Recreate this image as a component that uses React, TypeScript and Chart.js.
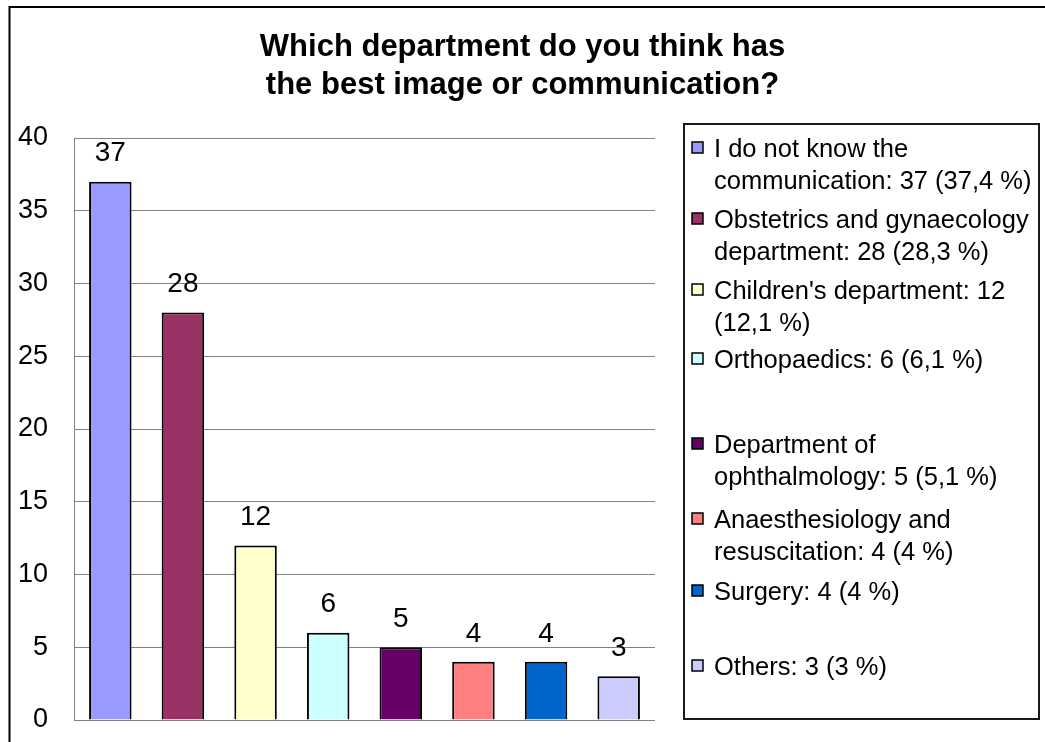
import React, { useEffect, useRef } from "react";
import { Chart, registerables } from "chart.js";

Chart.register(...registerables);

const categories = [
  "I do not know the communication",
  "Obstetrics and gynaecology department",
  "Children's department",
  "Orthopaedics",
  "Department of ophthalmology",
  "Anaesthesiology and resuscitation",
  "Surgery",
  "Others",
];
const counts = [37, 28, 12, 6, 5, 4, 4, 3];
const percents = [37.4, 28.3, 12.1, 6.1, 5.1, 4, 4, 3];
const barColors = ["#9999FF", "#993366", "#FFFFCC", "#CCFFFF", "#660066", "#FF8080", "#0066CC", "#CCCCFF"];
const titleLines = ["Which department do you think has", "the best image or communication?"];
const yMin = 0;
const yMax = 40;
const yStep = 5;

const FONT = "'Liberation Sans', Arial, Helvetica, sans-serif";
const W = 1045;
const H = 742;

const legendText = categories.map(
  (c, i) => `${c}: ${counts[i]} (${String(percents[i]).replace(".", ",")} %)`
);

// layout constants (legend row baselines)
const legendBaselines = [157, 228, 299, 368, 453, 528, 600, 675];

function wrap(ctx: CanvasRenderingContext2D, text: string, maxW: number): string[] {
  const words = text.split(" ");
  const lines: string[] = [];
  let cur = "";
  for (const w of words) {
    const test = cur ? cur + " " + w : w;
    if (ctx.measureText(test).width > maxW && cur) {
      lines.push(cur);
      cur = w;
    } else {
      cur = test;
    }
  }
  if (cur) lines.push(cur);
  return lines;
}

const decorPlugin = {
  id: "decor",
  beforeDraw(chart: any) {
    const ctx = chart.ctx as CanvasRenderingContext2D;
    ctx.save();
    ctx.fillStyle = "#ffffff";
    ctx.fillRect(0, 0, W, H);
    // outer frame (extends beyond the canvas right/bottom)
    ctx.strokeStyle = "#000000";
    ctx.lineWidth = 2;
    ctx.beginPath();
    ctx.moveTo(9.5, H + 5);
    ctx.lineTo(9.5, 7);
    ctx.lineTo(W + 5, 7);
    ctx.stroke();
    // title
    ctx.fillStyle = "#000000";
    ctx.font = `bold 31px ${FONT}`;
    ctx.textAlign = "center";
    ctx.textBaseline = "alphabetic";
    const baselines = [56, 94];
    titleLines.forEach((t, i) => {
      ctx.fillText(t, W / 2, baselines[i]);
    });
    ctx.restore();
  },
  afterDatasetsDraw(chart: any) {
    const ctx = chart.ctx as CanvasRenderingContext2D;
    const meta = chart.getDatasetMeta(0);
    ctx.save();
    ctx.fillStyle = "#000000";
    ctx.font = `28px ${FONT}`;
    ctx.textAlign = "center";
    ctx.textBaseline = "middle";
    meta.data.forEach((bar: any, i: number) => {
      ctx.fillText(String(counts[i]), bar.x, bar.y - 28);
    });
    ctx.restore();
  },
  afterDraw(chart: any) {
    const ctx = chart.ctx as CanvasRenderingContext2D;
    ctx.save();
    // legend box
    ctx.strokeStyle = "#1a1a1a";
    ctx.lineWidth = 2;
    ctx.strokeRect(684, 124, 355, 595);
    ctx.font = `25.5px ${FONT}`;
    ctx.textBaseline = "alphabetic";
    ctx.textAlign = "left";
    legendText.forEach((t, i) => {
      const base = legendBaselines[i];
      // marker
      ctx.fillStyle = barColors[i];
      ctx.fillRect(692, base - 15, 11, 11);
      ctx.strokeStyle = "#000000";
      ctx.lineWidth = 1.5;
      ctx.strokeRect(692, base - 15, 11, 11);
      ctx.fillStyle = "#000000";
      const lines = wrap(ctx, t, 323);
      lines.forEach((ln, j) => {
        ctx.fillText(ln, 714, base + j * 31.5);
      });
    });
    ctx.restore();
  },
};

export default function App() {
  const ref = useRef<HTMLCanvasElement | null>(null);
  useEffect(() => {
    if (!ref.current) return;
    const chart = new Chart(ref.current, {
      type: "bar",
      data: {
        labels: categories,
        datasets: [
          {
            data: counts,
            backgroundColor: barColors,
            borderColor: "#000000",
            borderWidth: 2,
            barPercentage: 0.585,
            categoryPercentage: 1,
          },
        ],
      },
      options: {
        responsive: false,
        animation: false,
        devicePixelRatio: 1,
        layout: { autoPadding: false, padding: { left: 0, top: 138, right: W - 655, bottom: H - 720 } },
        plugins: {
          legend: { display: false },
          title: { display: false },
          tooltip: { enabled: false },
        },
        scales: {
          x: {
            display: false,
          },
          y: {
            min: yMin,
            max: yMax,
            ticks: {
              stepSize: yStep,
              color: "#000000",
              padding: 26,
              font: { family: FONT, size: 27 },
            },
            grid: { color: "#808080", lineWidth: 1, drawTicks: false },
            border: { display: true, color: "#808080", width: 1 },
            afterFit: (s: any) => {
              s.width = 74;
              s.paddingTop = 0;
              s.paddingBottom = 0;
            },
          },
        },
      },
      plugins: [decorPlugin],
    } as any);
    return () => chart.destroy();
  }, []);
  return (
    <div style={{ position: "absolute", left: 0, top: 0, width: W, height: H, background: "#fff" }}>
      <canvas ref={ref} width={W} height={H} style={{ display: "block", width: W, height: H }} />
    </div>
  );
}
